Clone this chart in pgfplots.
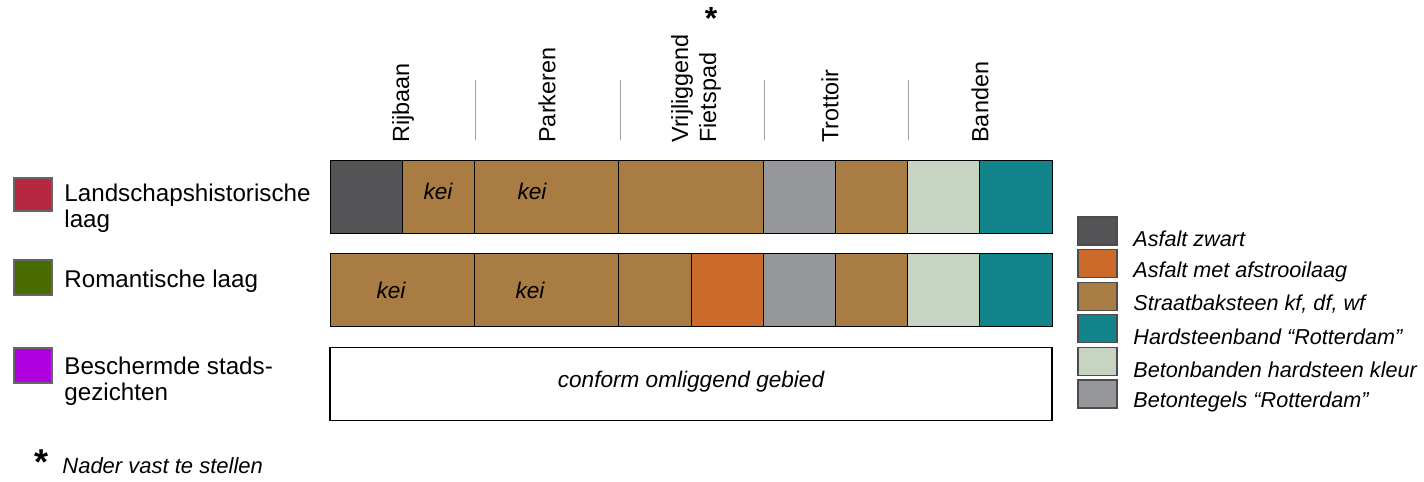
\documentclass[border=0pt]{standalone}
\usepackage{pgfplots}
\usepackage{pgfplotstable}
\pgfplotsset{compat=1.18}
\usepackage{fontspec}
\setmainfont{Liberation Sans}
\definecolor{cAZ}{HTML}{545456}
\definecolor{cAA}{HTML}{CC6A2C}
\definecolor{cSB}{HTML}{A87C42}
\definecolor{cHS}{HTML}{12848C}
\definecolor{cBB}{HTML}{C8D4C2}
\definecolor{cBT}{HTML}{96979B}
\definecolor{cLH}{HTML}{B5283F}
\definecolor{cRL}{HTML}{4A6B00}
\definecolor{cBS}{HTML}{B000E0}
\definecolor{sepgrey}{HTML}{A0A0A0}

% rows: y centre (px), then segment widths (px) from left to right
\pgfplotstableread{
y     off  az    sba   sbb    sbc    aa    bt    sbd   bb    hs    wt
196.5 330  72.2  72.2  144.4  144.4  0     72.2  72.2  72.2  72.2  0
289.5 330  0     144.4 144.4  72.2   72.2  72.2  72.2  72.2  72.2  0
384   330  0     0     0      0      0     0     0     0     0     722
}\rows

\tikzset{
  legkey/.style={draw=black!70, line width=0.6pt},
  legtxt/.style={anchor=west, inner sep=0pt, font=\fontsize{10.8}{12}\selectfont\itshape},
  bartxt/.style={font=\fontsize{11.3}{13}\selectfont\itshape},
}

\begin{document}
\begin{tikzpicture}
\begin{axis}[
  scale only axis, width=712pt, height=239pt,
  xmin=0, xmax=1424, ymin=0, ymax=478, y dir=reverse,
  hide axis, clip=false,
  xbar stacked, bar width=73,
  every axis plot/.append style={draw=black, line width=0.5pt},
  after end axis/.append code={
    \node[bartxt] at (axis cs:438,191) {kei};
    \node[bartxt] at (axis cs:532,191) {kei};
    \node[bartxt] at (axis cs:391,290) {kei};
    \node[bartxt] at (axis cs:530,290) {kei};
    \node[bartxt] at (axis cs:691,382) {conform omliggend gebied};
  },
]
\addplot[draw=none, fill=none] table[x=off, y=y] {\rows};
\addplot[fill=cAZ] table[x=az, y=y] {\rows};
\addplot[fill=cSB] table[x=sba, y=y] {\rows};
\addplot[fill=cSB] table[x=sbb, y=y] {\rows};
\addplot[fill=cSB] table[x=sbc, y=y] {\rows};
\addplot[fill=cAA] table[x=aa, y=y] {\rows};
\addplot[fill=cBT] table[x=bt, y=y] {\rows};
\addplot[fill=cSB] table[x=sbd, y=y] {\rows};
\addplot[fill=cBB] table[x=bb, y=y] {\rows};
\addplot[fill=cHS] table[x=hs, y=y] {\rows};
\addplot[fill=white, line width=0.7pt] table[x=wt, y=y] {\rows};

% column headers
\node[rotate=90, anchor=west, inner sep=0pt, font=\fontsize{11.7}{14}\selectfont] at (axis cs:403,143) {Rijbaan};
\node[rotate=90, anchor=west, inner sep=0pt, font=\fontsize{11.7}{14}\selectfont] at (axis cs:547,143) {Parkeren};
\node[rotate=90, anchor=west, inner sep=0pt, align=left, font=\fontsize{11.7}{14}\selectfont] at (axis cs:696,143) {Vrijliggend\\Fietspad};
\node[rotate=90, anchor=west, inner sep=0pt, font=\fontsize{11.7}{14}\selectfont] at (axis cs:830,143) {Trottoir};
\node[rotate=90, anchor=west, inner sep=0pt, font=\fontsize{11.7}{14}\selectfont] at (axis cs:980,143) {Banden};
\node[font=\fontsize{16}{16}\selectfont\bfseries] at (axis cs:711,18) {*};
\draw[sepgrey, line width=0.4pt] (axis cs:475,80) -- (axis cs:475,140);
\draw[sepgrey, line width=0.4pt] (axis cs:620,80) -- (axis cs:620,140);
\draw[sepgrey, line width=0.4pt] (axis cs:764,80) -- (axis cs:764,140);
\draw[sepgrey, line width=0.4pt] (axis cs:908,80) -- (axis cs:908,140);

% left legend (layers)
\draw[black!60, line width=0.6pt, fill=cLH] (axis cs:14,178) rectangle (axis cs:52,211);
\draw[black!60, line width=0.6pt, fill=cRL] (axis cs:14,260) rectangle (axis cs:52,295);
\draw[black!60, line width=0.6pt, fill=cBS] (axis cs:14,348) rectangle (axis cs:52,383);
\node[anchor=west, align=left, inner sep=0pt, font=\fontsize{12.1}{13}\selectfont] at (axis cs:64,208) {Landschapshistorische\\laag};
\node[anchor=west, align=left, inner sep=0pt, font=\fontsize{12.1}{13}\selectfont] at (axis cs:64,281) {Romantische laag};
\node[anchor=west, align=left, inner sep=0pt, font=\fontsize{12.1}{13}\selectfont] at (axis cs:64,381) {Beschermde stads-\\gezichten};

% right legend (materials)
\draw[legkey, fill=cAZ] (axis cs:1078,217) rectangle (axis cs:1117,245);
\draw[legkey, fill=cAA] (axis cs:1078,249.6) rectangle (axis cs:1117,277.6);
\draw[legkey, fill=cSB] (axis cs:1078,282.2) rectangle (axis cs:1117,310.2);
\draw[legkey, fill=cHS] (axis cs:1078,314.8) rectangle (axis cs:1117,342.8);
\draw[legkey, fill=cBB] (axis cs:1078,347.4) rectangle (axis cs:1117,375.4);
\draw[legkey, fill=cBT] (axis cs:1078,380) rectangle (axis cs:1117,408);
\node[legtxt] at (axis cs:1133,239) {Asfalt zwart};
\node[legtxt] at (axis cs:1133,271.6) {Asfalt met afstrooilaag};
\node[legtxt] at (axis cs:1133,304.2) {Straatbaksteen kf, df, wf};
\node[legtxt] at (axis cs:1133,336.8) {Hardsteenband “Rotterdam”};
\node[legtxt] at (axis cs:1133,369.4) {Betonbanden hardsteen kleur};
\node[legtxt] at (axis cs:1133,402) {Betontegels “Rotterdam”};

% footnote
\node[font=\fontsize{18}{18}\selectfont\bfseries] at (axis cs:42,462) {*};
\node[anchor=west, inner sep=0pt, font=\fontsize{11}{12}\selectfont\itshape] at (axis cs:62,466) {Nader vast te stellen};

\path (axis cs:0,0) rectangle (axis cs:1424,478);
\end{axis}
\end{tikzpicture}
\end{document}
